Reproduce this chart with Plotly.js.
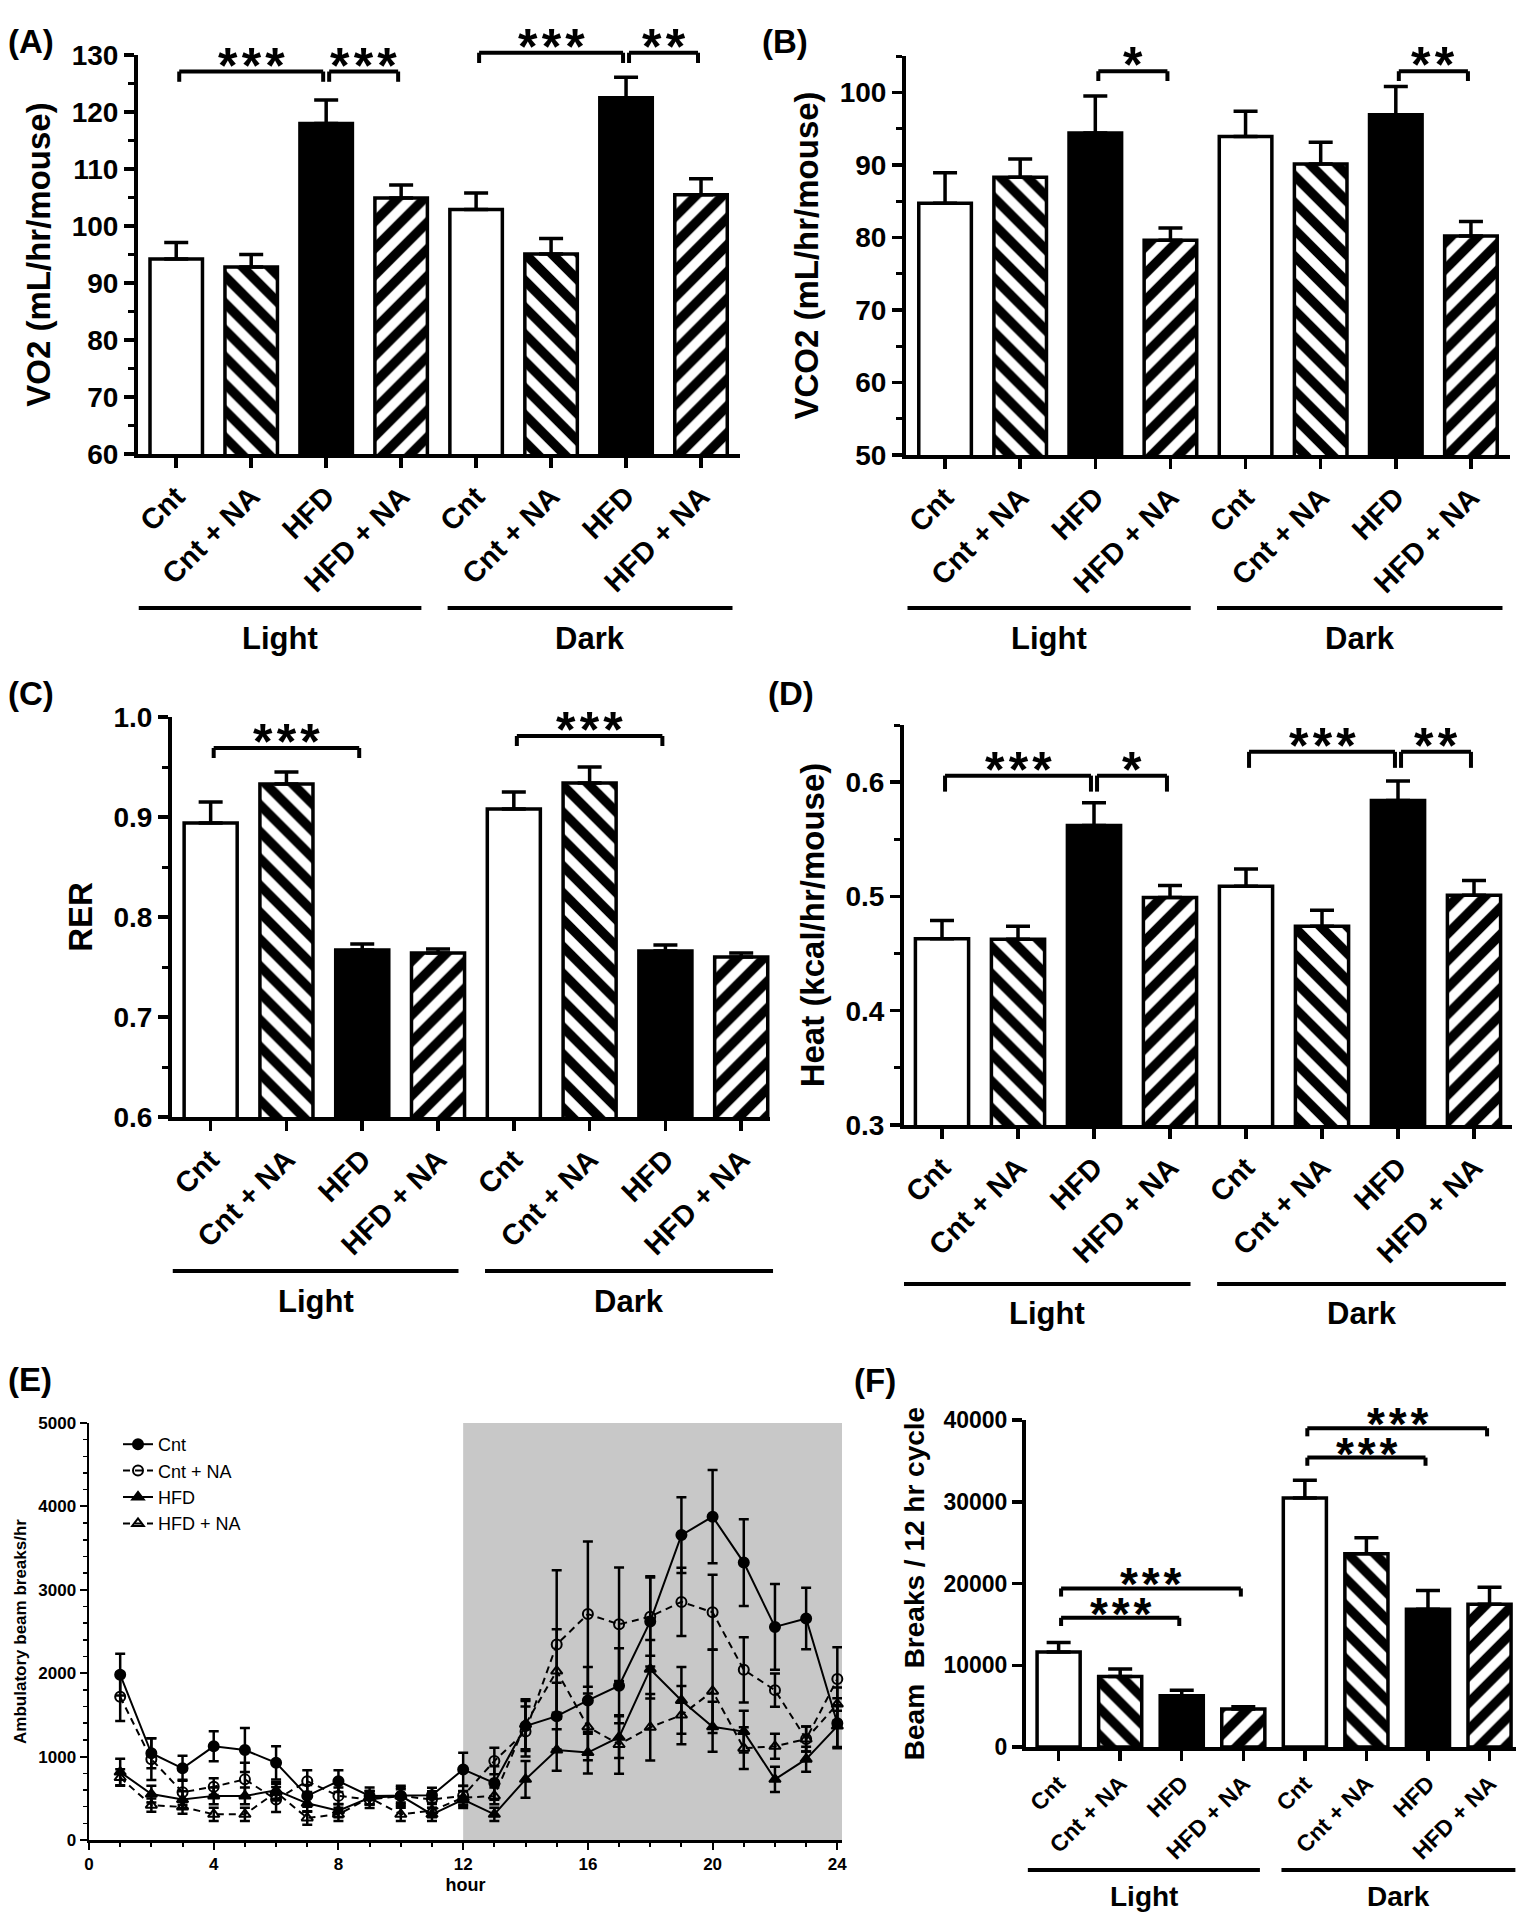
<!DOCTYPE html>
<html>
<head>
<meta charset="utf-8">
<script src="https://cdn.plot.ly/plotly-3.0.1.min.js"></script>
<style>
html,body{margin:0;padding:0;background:#fff;}
#chart{width:1525px;height:1920px;}
</style>
</head>
<body>
<div id="chart"></div>
<script>
// ---------------- DATA ----------------
const groups = ['Cnt', 'Cnt + NA', 'HFD', 'HFD + NA', 'Cnt', 'Cnt + NA', 'HFD', 'HFD + NA'];
const phases = ['Light', 'Dark'];

// (A) VO2 (mL/hr/mouse)
const vo2Mean = [94.2, 92.8, 118.0, 104.9, 102.9, 95.1, 122.5, 105.5];
const vo2Err  = [2.9, 2.2, 4.1, 2.3, 2.9, 2.7, 3.6, 2.8];
const vo2Sig  = [[0, 2, 127.1, '***'], [2, 3, 127.1, '***'], [4, 6, 130.4, '***'], [6, 7, 130.4, '**']];

// (B) VCO2 (mL/hr/mouse)
const vco2Mean = [84.7, 88.3, 94.4, 79.6, 93.9, 90.1, 96.9, 80.2];
const vco2Err  = [4.2, 2.5, 5.1, 1.7, 3.5, 3.0, 3.9, 2.0];
const vco2Sig  = [[2, 3, 102.9, '*'], [6, 7, 102.9, '**']];

// (C) RER
const rerMean = [0.894, 0.933, 0.767, 0.764, 0.908, 0.934, 0.766, 0.760];
const rerErr  = [0.021, 0.012, 0.006, 0.004, 0.017, 0.016, 0.006, 0.004];
const rerSig  = [[0, 2, 0.969, '***'], [4, 6, 0.981, '***']];

// (D) Heat (kcal/hr/mouse)
const heatMean = [0.463, 0.4625, 0.562, 0.499, 0.509, 0.474, 0.584, 0.501];
const heatErr  = [0.016, 0.0115, 0.020, 0.0105, 0.015, 0.014, 0.017, 0.013];
const heatSig  = [[0, 2, 0.6057, '***'], [2, 3, 0.6057, '*'], [4, 6, 0.6265, '***'], [6, 7, 0.6265, '**']];

// (F) Beam breaks / 12 hr cycle
const beamMean = [11636, 8636, 6273, 4636, 30455, 23636, 16864, 17455];
const beamErr  = [1137, 909, 682, 273, 2181, 1955, 2272, 2090];
const beamSig  = [[0, 2, 15800, '***'], [0, 3, 19400, '***'], [4, 6, 35400, '***'], [4, 7, 39000, '***']];

// (E) Ambulatory beam breaks/hr by hour
const hours = [1,2,3,4,5,6,7,8,9,10,11,12,13,14,15,16,17,18,19,20,21,22,23,24];
const seriesNames = ['Cnt', 'Cnt + NA', 'HFD', 'HFD + NA'];
const cntAct      = [1982, 1040, 859, 1123, 1079, 925, 529, 705, 529, 529, 537, 846, 683, 1366, 1485, 1674, 1850, 2621, 3656, 3877, 3326, 2555, 2656, 1400];
const cntActErr   = [250, 180, 150, 180, 265, 200, 130, 130, 100, 120, 90, 200, 200, 300, 400, 400, 450, 540, 454, 560, 520, 515, 370, 300];
const cntNaAct    = [1718, 969, 573, 639, 727, 485, 705, 529, 485, 529, 485, 530, 947, 1300, 2344, 2709, 2586, 2678, 2855, 2731, 2040, 1797, 1211, 1930];
const cntNaActErr = [290, 250, 150, 100, 200, 150, 130, 100, 100, 100, 100, 120, 160, 300, 890, 870, 680, 470, 410, 450, 390, 200, 150, 380];
const hfdAct      = [815, 551, 485, 529, 529, 595, 440, 352, 507, 529, 308, 485, 308, 727, 1079, 1048, 1233, 2048, 1674, 1357, 1300, 727, 969, 1366];
const hfdActErr   = [160, 100, 100, 100, 100, 100, 100, 80, 80, 80, 80, 100, 80, 220, 250, 250, 250, 350, 400, 300, 250, 150, 150, 250];
const hfdNaAct    = [749, 418, 396, 308, 308, 573, 264, 308, 507, 308, 352, 507, 529, 1388, 2026, 1357, 1145, 1352, 1498, 1784, 1101, 1123, 1211, 1630];
const hfdNaActErr = [100, 80, 80, 80, 80, 100, 80, 80, 80, 80, 80, 80, 100, 300, 500, 400, 350, 400, 350, 500, 250, 150, 150, 200];

// ---------------- STYLE / LAYOUT ----------------
const W = 1525, H = 1920;
const FONT = 'Liberation Sans, Arial, Helvetica, sans-serif';
// one style per treatment (Cnt, Cnt + NA, HFD, HFD + NA)
const barFill  = ['white', 'white', 'black', 'white'];
const barHatch = ['', '\\', '', '/'];
const phaseSpans = [[-0.5, 3.27], [3.62, 7.42]];

function xd(p0, p1) { return [p0 / W, p1 / W]; }
function yd(top, bottom) { return [1 - bottom / H, 1 - top / H]; }

const panels = [
  {n: 1, label: '(A)', lab: [6, 41], x: [138, 740], y: [55, 454], xr: [-0.51, 7.52], yr: [60, 130], dtick: 10, minor: 5, fmt: '',
   vals: vo2Mean, errs: vo2Err, sig: vo2Sig, tick: 1.8, title: 'VO2 (mL/hr/mouse)', lineY: 608, textY: 638,
   tickSize: 28, catSize: 29, titleSize: 33, phaseSize: 31, starSize: 50},
  {n: 2, label: '(B)', lab: [760, 41], x: [906, 1510], y: [56, 455], xr: [-0.52, 7.52], yr: [50, 105], dtick: 10, minor: 5, fmt: '',
   vals: vco2Mean, errs: vco2Err, sig: vco2Sig, tick: 1.35, title: 'VCO2 (mL/hr/mouse)', lineY: 608, textY: 638,
   tickSize: 28, catSize: 29, titleSize: 33, phaseSize: 31, starSize: 50},
  {n: 3, label: '(C)', lab: [6, 693], x: [172, 770], y: [717, 1117], xr: [-0.51, 7.38], yr: [0.6, 1.0], dtick: 0.1, minor: 0.05, fmt: '.1f',
   vals: rerMean, errs: rerErr, sig: rerSig, tick: 0.01, title: 'RER', lineY: 1271, textY: 1301,
   tickSize: 28, catSize: 29, titleSize: 33, phaseSize: 31, starSize: 50},
  {n: 4, label: '(D)', lab: [766, 693], x: [904, 1512], y: [725, 1125], xr: [-0.5, 7.5], yr: [0.3, 0.65], dtick: 0.1, minor: 0.05, fmt: '.1f',
   vals: heatMean, errs: heatErr, sig: heatSig, tick: 0.014, title: 'Heat (kcal/hr/mouse)', lineY: 1284, textY: 1313,
   tickSize: 28, catSize: 29, titleSize: 33, phaseSize: 31, starSize: 50},
  {n: 6, label: '(F)', lab: [852, 1380], x: [1026, 1516], y: [1420, 1747], xr: [-0.53, 7.43], yr: [0, 40000], dtick: 10000, minor: 0, fmt: 'd',
   vals: beamMean, errs: beamErr, sig: beamSig, tick: 1000, title: 'Beam\u00a0\u00a0Breaks / 12 hr cycle', lineY: 1870, textY: 1896,
   tickSize: 23, catSize: 23, titleSize: 28, phaseSize: 28, starSize: 46}
];

const traces = [];
const shapes = [];
const annotations = [];
const layout = {
  width: W, height: H,
  margin: {l: 0, r: 0, t: 0, b: 0},
  paper_bgcolor: 'white', plot_bgcolor: 'rgba(0,0,0,0)',
  font: {family: FONT, color: 'black'},
  showlegend: true,
  legend: {x: 118 / W, y: 1 - 1426 / H, xanchor: 'left', yanchor: 'top', bgcolor: 'rgba(0,0,0,0)',
           font: {family: FONT, size: 18, color: 'black'}, itemwidth: 30, tracegroupgap: 0},
  shapes: shapes, annotations: annotations
};

function bold(size) { return {family: FONT, size: size, color: 'black', weight: 700}; }

panels.forEach(p => {
  const id = p.n === 1 ? '' : String(p.n);
  const xa = 'x' + id, ya = 'y' + id;
  // one bar trace per treatment so that each keeps its own fill / hatch
  for (let t = 0; t < 4; t++) {
    const idx = groups.map((g, i) => i).filter(i => i % 4 === t);
    traces.push({
      type: 'bar', x: idx, y: idx.map(i => p.vals[i]), width: 0.7,
      xaxis: xa, yaxis: ya, showlegend: false, hoverinfo: 'skip',
      marker: {color: barFill[t], line: {color: 'black', width: 3.5},
               pattern: {shape: barHatch[t], fgcolor: 'black', bgcolor: 'white', fillmode: 'replace', size: 19, solidity: 0.5}},
      error_y: {type: 'data', symmetric: false, array: idx.map(i => p.errs[i]), arrayminus: idx.map(() => 0),
                color: 'black', thickness: 3.5, width: 12}
    });
  }
  layout['xaxis' + id] = {
    domain: xd(p.x[0], p.x[1]), range: p.xr, anchor: ya, fixedrange: true,
    showline: true, linewidth: 4, linecolor: 'black', mirror: false,
    ticks: 'outside', ticklen: 10, tickwidth: 3.5, tickcolor: 'black',
    tickmode: 'array', tickvals: groups.map((g, i) => i), ticktext: groups, tickangle: -45,
    tickfont: bold(p.catSize), showgrid: false, zeroline: false
  };
  const yax = {
    domain: yd(p.y[0], p.y[1]), range: p.yr, anchor: xa, fixedrange: true,
    showline: true, linewidth: 4, linecolor: 'black',
    ticks: 'outside', ticklen: 10, tickwidth: 3.5, tickcolor: 'black',
    tick0: 0, dtick: p.dtick, tickformat: p.fmt, tickfont: bold(p.tickSize),
    showgrid: false, zeroline: false,
    title: {text: p.title, font: bold(p.titleSize), standoff: 12}
  };
  if (p.minor) yax.minor = {dtick: p.minor, tick0: 0, ticks: 'outside', ticklen: 6, tickwidth: 3, tickcolor: 'black', showgrid: false};
  layout['yaxis' + id] = yax;

  // significance brackets
  const fx = v => (v - p.xr[0]) / (p.xr[1] - p.xr[0]);
  const fy = v => (v - p.yr[0]) / (p.yr[1] - p.yr[0]);
  p.sig.forEach(s => {
    const x0 = fx(s[0] + 0.04), x1 = fx(s[1] - 0.04);
    const yt = fy(s[2]), yb = fy(s[2] - p.tick);
    const ref = {xref: xa + ' domain', yref: ya + ' domain', type: 'line', line: {color: 'black', width: 4}};
    shapes.push(Object.assign({}, ref, {x0: x0, x1: x1, y0: yt, y1: yt}));
    shapes.push(Object.assign({}, ref, {x0: x0, x1: x0, y0: yt, y1: yb}));
    shapes.push(Object.assign({}, ref, {x0: x1, x1: x1, y0: yt, y1: yb}));
    annotations.push({xref: xa + ' domain', yref: ya + ' domain', x: (x0 + x1) / 2, y: yt,
      text: s[3].split('').join('\u200A'), showarrow: false, xanchor: 'center', yanchor: 'bottom',
      yshift: -24, font: bold(p.starSize)});
  });

  // Light / Dark group lines and labels
  phaseSpans.forEach((sp, k) => {
    shapes.push({type: 'line', xref: xa + ' domain', yref: 'paper', x0: fx(sp[0]), x1: fx(sp[1]),
      y0: 1 - p.lineY / H, y1: 1 - p.lineY / H, line: {color: 'black', width: 4}});
    annotations.push({xref: xa + ' domain', yref: 'paper', x: fx((sp[0] + sp[1]) / 2), y: 1 - p.textY / H,
      text: phases[k], showarrow: false, xanchor: 'center', yanchor: 'middle', font: bold(p.phaseSize)});
  });

  annotations.push({xref: 'paper', yref: 'paper', x: p.lab[0] / W, y: 1 - p.lab[1] / H, text: p.label,
    showarrow: false, xanchor: 'left', yanchor: 'middle', font: bold(33)});
});

// ---------------- Panel E ----------------
const actY = [cntAct, cntNaAct, hfdAct, hfdNaAct];
const actE = [cntActErr, cntNaActErr, hfdActErr, hfdNaActErr];
const symbols = ['circle', 'circle-open', 'triangle-up', 'triangle-up-open'];
const dashes = ['solid', '7px,5px', 'solid', '7px,5px'];
seriesNames.forEach((nm, k) => {
  traces.push({
    type: 'scatter', mode: 'lines+markers', name: nm, x: hours, y: actY[k],
    xaxis: 'x5', yaxis: 'y5', hoverinfo: 'skip', cliponaxis: false,
    line: {color: 'black', width: 2, dash: dashes[k]},
    marker: {symbol: symbols[k], size: 10, color: 'black', line: {color: 'black', width: 2}},
    error_y: {type: 'data', array: actE[k], color: 'black', thickness: 2.5, width: 5}
  });
});
layout.xaxis5 = {
  domain: xd(89, 842), range: [0, 24.15], anchor: 'y5', fixedrange: true,
  showline: true, linewidth: 2.5, linecolor: 'black', ticks: 'outside', ticklen: 7, tickwidth: 2, tickcolor: 'black',
  tick0: 0, dtick: 4, tickfont: bold(17), showgrid: false, zeroline: false,
  minor: {dtick: 1, tick0: 0, ticks: 'outside', ticklen: 4, tickwidth: 2, tickcolor: 'black', showgrid: false},
  title: {text: 'hour', font: bold(18), standoff: 6}
};
layout.yaxis5 = {
  domain: yd(1423, 1840), range: [0, 5000], anchor: 'x5', fixedrange: true,
  showline: true, linewidth: 2.5, linecolor: 'black', ticks: 'outside', ticklen: 7, tickwidth: 2, tickcolor: 'black',
  tick0: 0, dtick: 1000, tickformat: 'd', tickfont: bold(17), showgrid: false, zeroline: false,
  minor: {dtick: 200, tick0: 0, ticks: 'outside', ticklen: 4, tickwidth: 1.5, tickcolor: 'black', showgrid: false},
  title: {text: 'Ambulatory beam breaks/hr', font: bold(17), standoff: 8}
};
shapes.push({type: 'rect', xref: 'x5', yref: 'y5', x0: 12, x1: 24.15, y0: 0, y1: 5000,
  fillcolor: '#c8c8c8', line: {width: 0}, layer: 'below'});
annotations.push({xref: 'paper', yref: 'paper', x: 6 / W, y: 1 - 1379 / H, text: '(E)',
  showarrow: false, xanchor: 'left', yanchor: 'middle', font: bold(33)});

Plotly.newPlot('chart', traces, layout, {staticPlot: true, displayModeBar: false});
</script>
</body>
</html>
